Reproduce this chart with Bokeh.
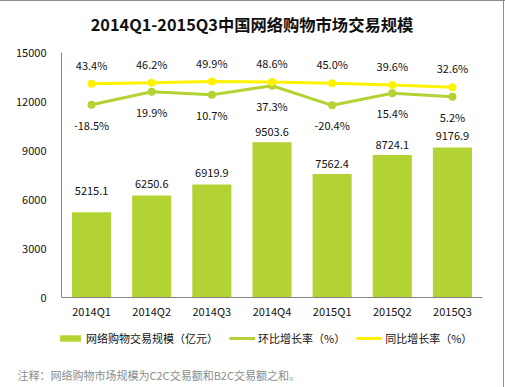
from bokeh.plotting import figure
from bokeh.layouts import column
from bokeh.models import (FactorRange, Range1d, Legend, LegendItem, Label,
                          ColumnDataSource, FixedTicker)
from bokeh.core.properties import value
from bokeh.embed import file_html
from bokeh.resources import INLINE

# ---- data ----
quarters = ["2014Q1", "2014Q2", "2014Q3", "2014Q4", "2015Q1", "2015Q2", "2015Q3"]
market_scale = [5215.1, 6250.6, 6919.9, 9503.6, 7562.4, 8724.1, 9176.9]   # 亿元
qoq_growth = [-18.5, 19.9, 10.7, 37.3, -20.4, 15.4, 5.2]                  # 环比 %
yoy_growth = [43.4, 46.2, 49.9, 48.6, 45.0, 39.6, 32.6]                   # 同比 %
y_ticks = [0, 3000, 6000, 9000, 12000, 15000]

title_text = "2014Q1-2015Q3中国网络购物市场交易规模"
note_text = "注释：网络购物市场规模为C2C交易额和B2C交易额之和。"
legend_labels = ["网络购物交易规模（亿元）", "环比增长率（%）", "同比增长率（%）"]

# ---- style ----
FONT = "Noto Sans CJK SC"
GREEN = "#B3D334"
YELLOW = "#FFF200"
AXIS = "#868686"
EDGE = "#8C8C8C"
TXT = "#111111"
bar_label_dy = [-21, -11, -11, -10, -10, -10, -12]
RIGHT_EDGE = f"inset -1px 0 0 #ffffff, inset -2px 0 0 {EDGE}"

src = ColumnDataSource(dict(
    q=quarters, v=market_scale,
    vl=[f"{x:.1f}" for x in market_scale], vdy=bar_label_dy,
    qoq=qoq_growth, qoql=[f"{x:.1f}%" for x in qoq_growth],
    yoy=yoy_growth, yoyl=[f"{x:.1f}%" for x in yoy_growth],
))


def strip(height):
    f = figure(width=505, height=height, x_range=Range1d(0, 505),
               y_range=Range1d(height, 0), x_axis_type=None, y_axis_type=None,
               output_backend="svg", toolbar_location=None,
               min_border_left=0, min_border_right=0,
               min_border_top=0, min_border_bottom=0)
    f.frame_align = False
    f.outline_line_color = None
    f.grid.visible = False
    f.title.visible = False
    f.border_fill_color = None
    f.background_fill_color = None
    return f


# ---- title strip ----
p0 = strip(40)
p0.styles = {"box-shadow": f"inset 0 1px 0 {EDGE}, {RIGHT_EDGE}"}
p0.add_layout(Label(x=251.5, y=17, x_units="screen", y_units="screen", text=title_text,
                    text_align="center", text_baseline="middle", text_font=FONT,
                    text_font_size="16.3px", text_font_style="bold", text_color=TXT))

# ---- main chart ----
p = figure(width=505, height=285,
           x_range=FactorRange(factors=quarters, range_padding=0),
           y_range=Range1d(0, 15000),
           output_backend="svg", toolbar_location=None,
           min_border_left=61, min_border_right=23,
           min_border_top=12, min_border_bottom=28)
p.frame_align = False
p.title.visible = False
p.border_fill_color = None
p.styles = {"box-shadow": RIGHT_EDGE}
p.extra_y_ranges = {"pct": Range1d(-587.5, 135.5)}

p.vbar(x="q", top="v", width=0.65, source=src, fill_color=GREEN, line_color=None)
p.line(x="q", y="qoq", source=src, line_color=GREEN, line_width=3, y_range_name="pct")
p.scatter(x="q", y="qoq", source=src, size=8, fill_color=GREEN, line_color=None,
          y_range_name="pct")
p.line(x="q", y="yoy", source=src, line_color=YELLOW, line_width=3, y_range_name="pct")
p.scatter(x="q", y="yoy", source=src, size=8, fill_color=YELLOW, line_color=None,
          y_range_name="pct")

common = dict(text_align="center", text_baseline="middle",
              text_font=value(FONT), text_font_size="11px", text_color=TXT)
p.text(x="q", y="v", text="vl", y_offset="vdy", source=src, **common)
p.text(x="q", y="qoq", text="qoql", y_offset=20, source=src, y_range_name="pct", **common)
p.text(x="q", y="yoy", text="yoyl", y_offset=-19, source=src, y_range_name="pct", **common)

p.grid.visible = False
p.outline_line_color = None
for ax in (p.xaxis[0], p.yaxis[0]):
    ax.axis_line_color = AXIS
    ax.axis_line_width = 1
    ax.major_tick_line_color = None
    ax.minor_tick_line_color = None
    ax.major_tick_out = 0
    ax.major_tick_in = 0
    ax.minor_tick_out = 0
    ax.minor_tick_in = 0
    ax.major_label_text_font = FONT
    ax.major_label_text_font_size = "11px"
    ax.major_label_text_color = TXT
p.yaxis.ticker = FixedTicker(ticks=y_ticks)
p.yaxis.major_label_standoff = 15
p.xaxis.major_label_standoff = 5

# ---- legend + footnote strip ----
p2 = strip(62)
p2.styles = {"box-shadow": RIGHT_EDGE}
# hidden key glyphs (one dummy point each) so the legend can draw its swatches
key_bar = p2.vbar(x=[0], top=[0], width=1, fill_color=GREEN, line_color=None, visible=False)
key_qoq_l = p2.line(x=[0], y=[0], line_color=GREEN, line_width=3, visible=False)
key_qoq_m = p2.scatter(x=[0], y=[0], size=8, fill_color=GREEN, line_color=None, visible=False)
key_yoy_l = p2.line(x=[0], y=[0], line_color=YELLOW, line_width=3, visible=False)
key_yoy_m = p2.scatter(x=[0], y=[0], size=8, fill_color=YELLOW, line_color=None, visible=False)

legend = Legend(items=[
    LegendItem(label=legend_labels[0], renderers=[key_bar]),
    LegendItem(label=legend_labels[1], renderers=[key_qoq_l, key_qoq_m]),
    LegendItem(label=legend_labels[2], renderers=[key_yoy_l, key_yoy_m]),
], orientation="horizontal", location=(57, 41.5),
    glyph_width=26, glyph_height=8, label_standoff=3, spacing=11,
    padding=0, margin=0, label_height=12,
    border_line_alpha=0, background_fill_alpha=0, inactive_fill_alpha=0,
    label_text_font=FONT, label_text_font_size="11px", label_text_color=TXT)
p2.add_layout(legend)

p2.add_layout(Label(x=17, y=13, x_units="screen", y_units="screen", text=note_text,
                    text_align="left", text_baseline="middle", text_font=FONT,
                    text_font_size="11px", text_color="#8C8C8C"))

layout = column(p0, p, p2, spacing=0)
open("out.html", "w").write(file_html(layout, INLINE))
